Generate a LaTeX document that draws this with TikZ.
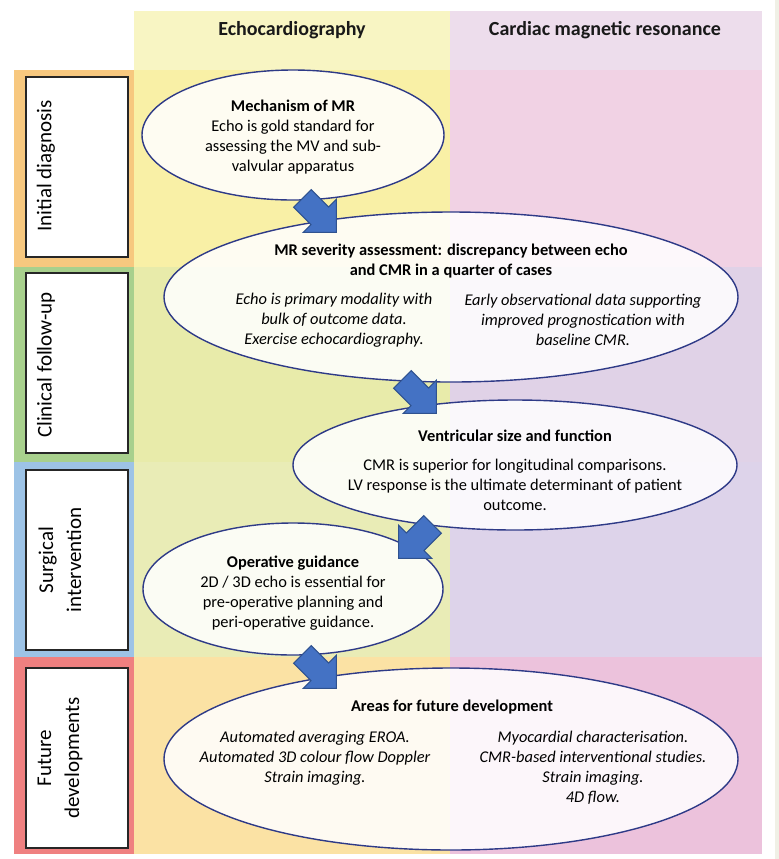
\documentclass[tikz,border=0pt]{standalone}
\usepackage{fontspec}
\setmainfont{Carlito}
\usepackage{xcolor}
\usepackage{tikz}
\usetikzlibrary{shapes.geometric,shapes.arrows}

\definecolor{hdrecho}{HTML}{F8F5C3}
\definecolor{hdrcmr}{HTML}{EDDDEC}
\definecolor{rowAecho}{HTML}{F9F0A6}
\definecolor{rowAcmr}{HTML}{F1D2E4}
\definecolor{rowBecho}{HTML}{E8EBAA}
\definecolor{rowBcmr}{HTML}{E0D2E7}
\definecolor{rowCecho}{HTML}{E9ECB6}
\definecolor{rowCcmr}{HTML}{DDD3EA}
\definecolor{rowDecho}{HTML}{FBE2A4}
\definecolor{rowDcmr}{HTML}{ECC2DC}
\definecolor{bandorange}{HTML}{F7C87F}
\definecolor{bandgreen}{HTML}{A8D08D}
\definecolor{bandblue}{HTML}{9DC3E6}
\definecolor{bandred}{HTML}{EF8080}
\definecolor{edgegray}{HTML}{F0F0E6}
\definecolor{arrowblue}{HTML}{4472C4}
\definecolor{arrowline}{HTML}{2F528F}
\definecolor{bubbleline}{HTML}{2E3A87}

\begin{document}
\begin{tikzpicture}[x=0.5pt,y=-0.5pt,
    bubble/.style={ellipse, draw=bubbleline, line width=0.7pt, fill=white,
        fill opacity=0.86, inner sep=0pt},
    flowarrow/.style={single arrow, draw=arrowline, fill=arrowblue, line width=0.5pt,
        single arrow tip angle=90, single arrow head extend=5.5pt,
        minimum height=24pt, minimum width=23pt, inner xsep=0pt, inner ysep=6pt},
    bodytext/.style={font=\fontsize{8.2}{10}\selectfont, align=center},
    sidelabel/.style={font=\fontsize{10.5}{14}\selectfont, align=center, rotate=90},
    labelbox/.style={draw=black!85, fill=white, line width=0.6pt,
        minimum width=51pt, minimum height=90pt, inner sep=0pt},
    header/.style={font=\fontsize{10}{12}\selectfont\bfseries, text=black!90}]

\useasboundingbox (0,0) rectangle (779,859);
\fill[white] (0,0) rectangle (779,859);
\fill[edgegray] (775,0) rectangle (779,859);

% Column headers
\fill[hdrecho] (134,11) rectangle (450,70);
\fill[hdrcmr] (450,11) rectangle (762,70);
\node[header] (echohead) at (292,30) {Echocardiography};
\node[header] (cmrhead) at (605,30) {Cardiac magnetic resonance};

% Row bands
\foreach \ytop/\ybot/\band/\echo/\cmr in {70/267/bandorange/rowAecho/rowAcmr,
        267/462/bandgreen/rowBecho/rowBcmr, 462/657/bandblue/rowCecho/rowCcmr,
        657/854/bandred/rowDecho/rowDcmr}
{
    \fill[\band] (14,\ytop) rectangle (134,\ybot);
    \fill[\echo] (134,\ytop) rectangle (450,\ybot);
    \fill[\cmr] (450,\ytop) rectangle (762,\ybot);
}

% Stage labels
\node[labelbox] (initbox) at (77,167) {};
\node[labelbox] (followbox) at (77,363) {};
\node[labelbox] (surgbox) at (77,560) {};
\node[labelbox] (futbox) at (77,758) {};
\node[sidelabel] (initlabel) at (46,166) {Initial diagnosis};
\node[sidelabel] (followlabel) at (46,365) {Clinical follow-up};
\node[sidelabel] (surglabel) at (60,560) {Surgical\\intervention};
\node[sidelabel] (futlabel) at (60,758) {Future\\developments};

% Mechanism
\node[bubble, minimum width=151pt, minimum height=65pt] (mech) at (293,135) {};
\node[bodytext] (mechtext) at (293,137) {\textbf{Mechanism of MR}\\Echo is gold standard for\\
    assessing the MV and sub-\\valvular apparatus};

% Severity
\node[bubble, minimum width=287pt, minimum height=85pt] (sev) at (451,297) {};
\node[bodytext, font=\fontsize{8.2}{10}\selectfont\bfseries] (sevtitle) at (451,261)
    {MR severity assessment: discrepancy between echo\\and CMR in a quarter of cases};
\node[bodytext, font=\fontsize{8.2}{10}\selectfont\itshape] (sevecho) at (334,320)
    {Echo is primary modality with\\bulk of outcome data.\\Exercise echocardiography.};
\node[bodytext, font=\fontsize{8.2}{10}\selectfont\itshape] (sevcmr) at (583,320)
    {Early observational data supporting\\improved prognostication with\\baseline CMR.};

% Ventricle
\node[bubble, minimum width=222pt, minimum height=65pt] (vent) at (515,465) {};
\node[bodytext, font=\fontsize{8.2}{10}\selectfont\bfseries] (venttitle) at (515,436)
    {Ventricular size and function};
\node[bodytext] (venttext) at (515,485) {CMR is superior for longitudinal comparisons.\\
    LV response is the ultimate determinant of patient\\outcome.};

% Operative guidance
\node[bubble, minimum width=150pt, minimum height=66pt] (oper) at (293,589) {};
\node[bodytext] (opertext) at (293,593) {\textbf{Operative guidance}\\2D / 3D echo is essential for\\
    pre-operative planning and\\peri-operative guidance.};

% Future development
\node[bubble, minimum width=287pt, minimum height=91pt] (future) at (451,759) {};
\node[bodytext, font=\fontsize{8.2}{10}\selectfont\bfseries] (futtitle) at (452,707)
    {Areas for future development};
\node[bodytext, font=\fontsize{8.2}{10}\selectfont\itshape] (futecho) at (315,758)
    {Automated averaging EROA.\\Automated 3D colour flow Doppler\\Strain imaging.};
\node[bodytext, font=\fontsize{8.2}{10}\selectfont\itshape] (futcmr) at (593,768)
    {Myocardial characterisation.\\CMR-based interventional studies.\\Strain imaging.\\4D flow.};

% Block arrows between the stages
\node[flowarrow, rotate=-45] (arrA) at (315,211) {};
\node[flowarrow, rotate=-45] (arrB) at (415,392) {};
\node[flowarrow, rotate=-135] (arrC) at (420,537) {};
\node[flowarrow, rotate=-45] (arrD) at (315,667) {};

\end{tikzpicture}
\end{document}
